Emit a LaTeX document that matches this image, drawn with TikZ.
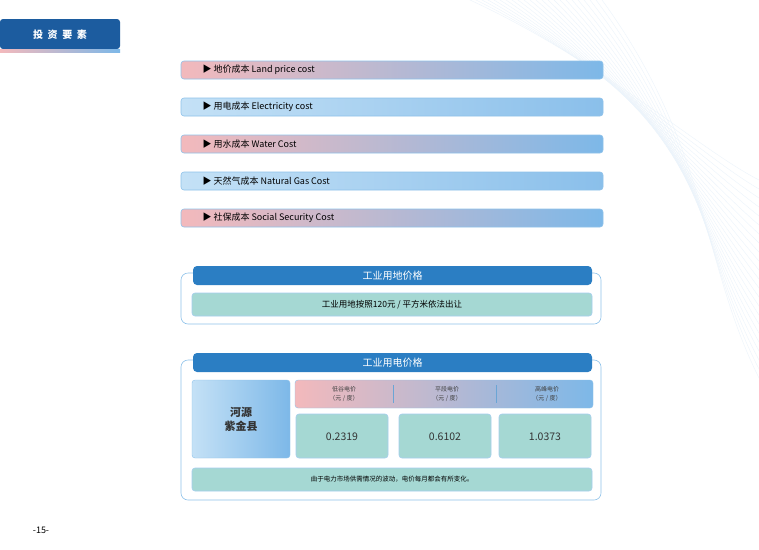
\documentclass[tikz,border=0pt]{standalone}
\usepackage{fontspec}
\setmainfont{Noto Sans CJK SC}
\usetikzlibrary{shadings}
\definecolor{dblue}{HTML}{1C5C9F}
\definecolor{tblue}{HTML}{2B7EC3}
\definecolor{pinkc}{HTML}{F3B9BC}
\definecolor{bluec}{HTML}{7DB8E8}
\definecolor{lblue}{HTML}{C4E1F6}
\definecolor{teal}{HTML}{A5D8D3}
\definecolor{edgeb}{HTML}{8EC2EA}
\tikzset{
 bar/.style={rounded corners=3pt, draw=edgeb, line width=0.6pt},
 barlbl/.style={anchor=west, font=\fontsize{9}{10}\selectfont},
 ttl/.style={rounded corners=4pt, fill=tblue},
 ttltext/.style={text=white, font=\fontsize{10}{11}\selectfont},
 tealbox/.style={rounded corners=3pt, fill=teal, draw=edgeb!80, line width=0.6pt},
 outer/.style={rounded corners=7pt, draw=edgeb, line width=0.6pt, fill=white}
}
\begin{document}
\begin{tikzpicture}[x=1pt,y=-1pt]
\useasboundingbox (0,0) rectangle (759,549);
\fill[white] (0,0) rectangle (759,549);
% background lines
\foreach \i in {0,...,22}{
 \draw[bluec!15, line width=0.4pt] (470+\i*6,0) .. controls (600+\i*5,60+\i*4) and (700,150+\i*5) .. (759,180+\i*9);
}
% header tab
\fill[dblue, rounded corners=3pt] (0,19) -- (120,19) -- (120,49) -- (0,49) -- cycle;
\shade[left color=pinkc, right color=bluec] (0,49) rectangle (120,52);
\node[text=white, font=\bfseries\fontsize{10}{12}\selectfont] (hdr) at (60,35) {投\ \ 资\ \ 要\ \ 素};
% bars
\foreach \y/\t/\k in {70/地价成本 Land price cost/1,107/用电成本 Electricity cost/0,144/用水成本 Water Cost/1,181/天然气成本 Natural Gas Cost/0,218/社保成本 Social Security Cost/1}{
 \ifnum\k=1
  \shade[bar, left color=pinkc, right color=bluec] (181,\y-9) rectangle (603,\y+9);
 \else
  \shade[bar, left color=lblue, right color=bluec!90] (181,\y-9) rectangle (603,\y+9);
 \fi
 \node[barlbl] (b\y) at (199,\y) {▶\ \t};
}
% land price box
\draw[outer] (181,273) rectangle (601,324);
\fill[ttl] (193,266) rectangle (592,285);
\node[ttltext] (t1) at (392.5,275.5) {工业用地价格};
\draw[tealbox] (192,293) rectangle (592,316);
\node[font=\fontsize{8.5}{9}\selectfont] (l1) at (392,304.5) {工业用地按照120元 / 平方米依法出让};
% electricity box
\draw[outer] (181,360) rectangle (601,500);
\fill[ttl] (193,353) rectangle (592,372);
\node[ttltext] (t2) at (392.5,362.5) {工业用电价格};
\shade[rounded corners=3pt, left color=lblue, right color=bluec, draw=edgeb] (192,380) rectangle (290,458);
\node[font=\bfseries\fontsize{11}{14}\selectfont, align=center, text=black!80] (hy) at (241,419) {河源\\紫金县};
\shade[rounded corners=3pt, left color=pinkc, right color=bluec, draw=edgeb] (295,380) rectangle (593,408);
\draw[tblue!70, line width=0.6pt] (393,385) -- (393,403);
\draw[tblue!70, line width=0.6pt] (496,385) -- (496,403);
\foreach \x/\t/\v/\n in {344/低谷电价/0.2319/a,447/平段电价/0.6102/b,547/高峰电价/1.0373/c}{
 \node[font=\fontsize{6}{9}\selectfont, align=center, text=black!75] (h\n) at (\x,394) {\t\\（元 / 度）};
 \draw[tealbox] (\x-48,414) rectangle (\x+44,458);
 \node[font=\fontsize{10.5}{11}\selectfont, text=black!80] (v\n) at (\x-2,437) {\v};
}
\draw[tealbox] (192,468) rectangle (592,491);
\node[font=\fontsize{6.5}{8}\selectfont] (note) at (392,479.5) {由于电力市场供需情况的波动，电价每月都会有所变化。};
\node[font=\fontsize{9}{10}\selectfont] (pg) at (41,530) {-15-};
\end{tikzpicture}
\end{document}
